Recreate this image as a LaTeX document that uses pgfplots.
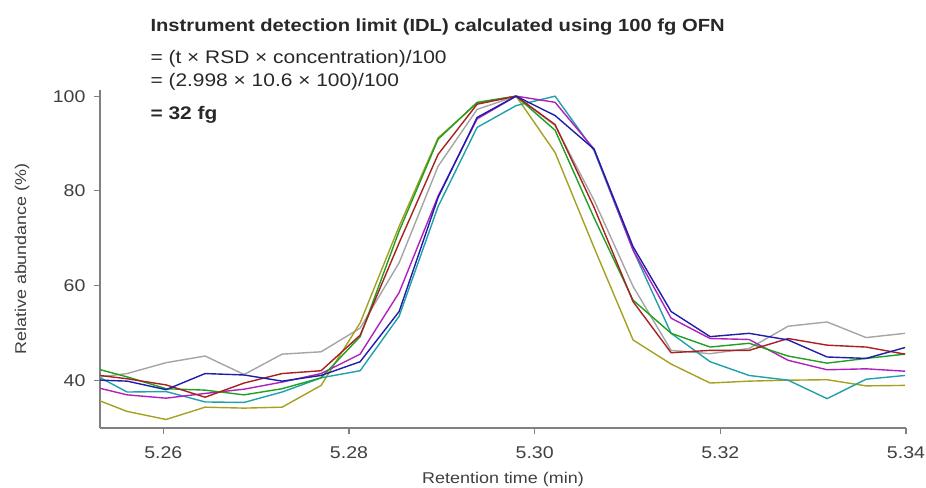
\documentclass[border=0pt]{standalone}
\usepackage{fontspec}
\setmainfont{Liberation Sans}[FakeStretch=1.15]
\usepackage{pgfplots}
\usepackage{pgfplotstable}
\pgfplotsset{compat=1.18}
\definecolor{cgray}{RGB}{165,165,165}
\definecolor{cblue}{RGB}{30,30,170}
\definecolor{cred}{RGB}{168,32,32}
\definecolor{cgreen}{RGB}{32,160,32}
\definecolor{ccyan}{RGB}{32,160,168}
\definecolor{cmag}{RGB}{176,32,190}
\definecolor{colive}{RGB}{166,160,32}
\definecolor{axisgray}{RGB}{128,128,128}
\definecolor{ticktext}{RGB}{64,64,64}
\definecolor{titlecol}{RGB}{40,40,40}

\pgfplotstableread{
t      gray  blue  red   green cyan  mag   olive
5.2519 40.4  40.1  41.3  42.9  41.9  38.9  36.6
5.2561 41.4  39.8  40.3  40.7  37.5  36.9  33.4
5.2603 43.7  38.0  39.0  38.2  37.6  36.2  31.7
5.2645 45.1  41.4  36.4  37.9  35.4  37.2  34.3
5.2687 41.2  41.1  39.4  36.9  35.3  38.1  34.1
5.2728 45.5  39.8  41.4  38.2  37.5  39.6  34.3
5.2770 46.0  41.0  42.0  40.5  40.5  41.4  38.9
5.2812 51.0  43.9  49.5  49.2  42.0  45.5  52.1
5.2854 64.8  54.5  69.0  71.5  53.5  58.5  72.5
5.2896 85.2  78.6  87.7  90.9  76.7  78.9  91.2
5.2938 97.2  95.5  98.3  98.7  93.4  95.2  98.5
5.2980 100   100   100   100   98.0  100   100
5.3022 93.8  95.9  94.0  92.8  100   98.7  88.1
5.3064 78.0  88.8  76.5  74.3  88.5  88.8  68.0
5.3106 59.8  68.2  56.6  56.9  67.5  67.5  48.5
5.3147 46.3  54.5  45.8  49.9  49.9  53.1  43.4
5.3189 45.6  49.2  46.3  47.0  43.9  48.8  39.4
5.3231 46.7  49.9  46.3  47.8  41.0  48.6  39.8
5.3273 51.4  48.5  48.8  45.1  40.0  44.2  40.0
5.3315 52.3  44.9  47.4  43.6  36.1  42.2  40.1
5.3357 49.0  44.6  47.0  44.6  40.2  42.4  38.8
5.3399 49.9  46.9  45.5  45.5  41.0  41.9  38.9
}\peaks

\begin{document}
\begin{tikzpicture}
\useasboundingbox (0,0) rectangle (926bp,488bp);
\begin{axis}[
  at={(100bp,60bp)}, anchor=south west,
  scale only axis, width=806bp, height=338bp,
  xmin=5.25318, xmax=5.34, ymin=29.9, ymax=101.3,
  axis lines=left,
  axis line style={draw=axisgray, line width=1.3bp, -},
  xtick={5.26,5.28,5.30,5.32,5.34}, ytick={40,60,80,100},
  xticklabel style={/pgf/number format/fixed, /pgf/number format/fixed zerofill, /pgf/number format/precision=2, yshift=-9bp},
  yticklabel style={xshift=-5bp},
  /pgf/number format/assume math mode=true,
  tick align=outside, major tick length=6bp,
  tick style={draw=axisgray, line width=1.1bp},
  ticklabel style={font=\fontsize{17bp}{19bp}\selectfont, text=ticktext},
  every axis plot/.append style={line width=1.4bp, line join=round},
]
\addplot[cgray]  table[x=t, y=gray]  {\peaks};
\addplot[colive] table[x=t, y=olive] {\peaks};
\addplot[ccyan]  table[x=t, y=cyan]  {\peaks};
\addplot[cmag]   table[x=t, y=mag]   {\peaks};
\addplot[cgreen] table[x=t, y=green] {\peaks};
\addplot[cred]   table[x=t, y=red]   {\peaks};
\addplot[cblue]  table[x=t, y=blue]  {\peaks};
\end{axis}
\node[anchor=base west, font=\bfseries\fontsize{17.55bp}{20bp}\selectfont, text=titlecol] at (147bp,456.3bp) {Instrument detection limit (IDL) calculated using 100 fg OFN};
\node[anchor=base west, font=\fontsize{18.2bp}{20bp}\selectfont, text=titlecol] at (147bp,424.7bp) {= (t × RSD × concentration)/100};
\node[anchor=base west, font=\fontsize{18.2bp}{20bp}\selectfont, text=titlecol] at (147bp,401.3bp) {= (2.998 × 10.6 × 100)/100};
\node[anchor=base west, font=\bfseries\fontsize{18.2bp}{20bp}\selectfont, text=titlecol] at (147bp,368bp) {= 32 fg};
\node[anchor=base, font=\fontsize{15.6bp}{18bp}\selectfont, text=ticktext] at (503bp,5bp) {Retention time (min)};
\node[anchor=base, rotate=90, font=\fontsize{15.6bp}{18bp}\selectfont, text=ticktext] at (26bp,229bp) {Relative abundance (\%)};
\end{tikzpicture}
\end{document}
